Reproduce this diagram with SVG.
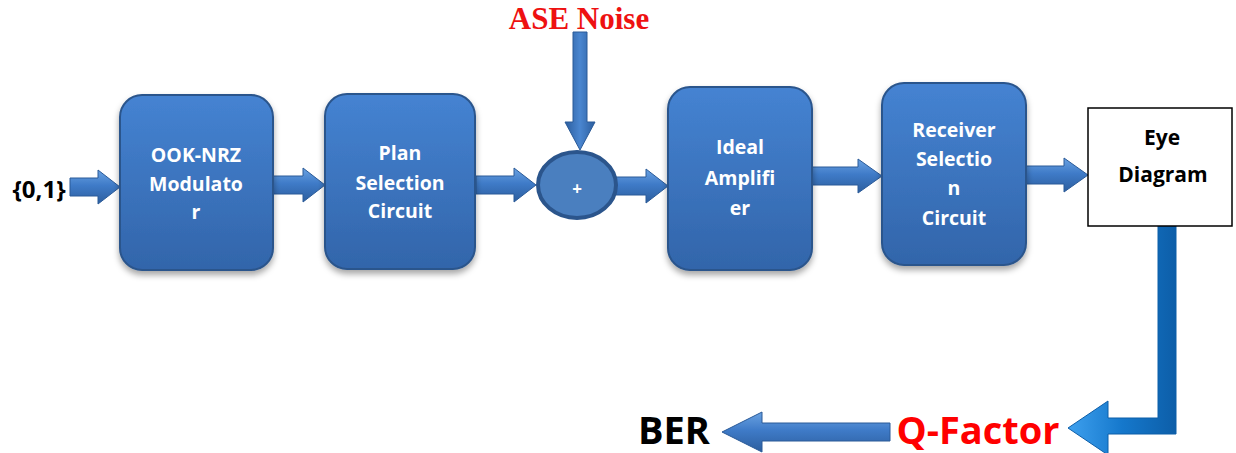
<svg xmlns="http://www.w3.org/2000/svg" width="1236" height="453" viewBox="0 0 1236 453">
  <defs>
    <linearGradient id="boxFill" x1="0" y1="0" x2="0" y2="1">
      <stop offset="0" stop-color="#4583d2"/>
      <stop offset="1" stop-color="#3265aa"/>
    </linearGradient>
    <linearGradient id="arrowH" x1="0" y1="0" x2="0" y2="1">
      <stop offset="0" stop-color="#6aa2e2"/>
      <stop offset="0.45" stop-color="#3f7bc8"/>
      <stop offset="1" stop-color="#2c5e9e"/>
    </linearGradient>
    <linearGradient id="arrowV" x1="0" y1="0" x2="1" y2="0">
      <stop offset="0" stop-color="#2c5e9e"/>
      <stop offset="0.5" stop-color="#4a86d0"/>
      <stop offset="1" stop-color="#2c5e9e"/>
    </linearGradient>
    <linearGradient id="arrowBright" x1="0" y1="0" x2="1" y2="0">
      <stop offset="0" stop-color="#3ea0ee"/>
      <stop offset="0.5" stop-color="#1578cc"/>
      <stop offset="1" stop-color="#0d5ea8"/>
    </linearGradient>
    <filter id="shadow" x="-20%" y="-20%" width="140%" height="140%">
      <feDropShadow dx="0" dy="4" stdDeviation="3" flood-color="#000" flood-opacity="0.35"/>
    </filter>
  </defs>
  <style>
    .box { fill: url(#boxFill); stroke: #2b558c; stroke-width: 2; filter: url(#shadow); }
    .lbl { font-family: "Open Sans", "Liberation Sans", sans-serif; font-weight: bold; font-size: 19.5px; fill: #ffffff; text-anchor: middle; }
    .blk { font-family: "Open Sans", "Liberation Sans", sans-serif; font-weight: bold; fill: #000000; text-anchor: middle; }
    .arr { fill: url(#arrowH); stroke: #2a5a98; stroke-width: 1; }
    .arrv { fill: url(#arrowV); stroke: #2a5a98; stroke-width: 1; }
  </style>
  <rect width="1236" height="453" fill="#ffffff"/>

  <!-- connectors -->
  <g id="connectors">
    <!-- input to modulator -->
    <path class="arr" d="M70,178 H98 V170 L120,187 L98,204 V196 H70 Z"/>
    <!-- modulator to plan selection -->
    <path class="arr" d="M273,176 H303 V168 L325,185 L303,202 V194 H273 Z"/>
    <!-- plan selection to adder -->
    <path class="arr" d="M476,176 H514 V168 L536,185 L514,202 V194 H476 Z"/>
    <!-- adder to amplifier -->
    <path class="arr" d="M616,177 H646 V169 L668,186 L646,203 V195 H616 Z"/>
    <!-- amplifier to receiver selection -->
    <path class="arr" d="M812,167 H858 V159 L882,176 L858,193 V185 H812 Z"/>
    <!-- receiver selection to eye diagram -->
    <path class="arr" d="M1025,166 H1064 V158 L1088,175 L1064,192 V184 H1025 Z"/>
    <!-- ASE noise into adder -->
    <path class="arrv" d="M573,32 H587 V122 H595 L580,150 L565,122 H573 Z"/>
    <!-- eye diagram down to Q-factor -->
    <path fill="url(#arrowBright)" stroke="#0d5ea8" stroke-width="1" d="M1158,221 H1176 V434 H1108 V455 L1068,428 L1108,401 V418 H1158 Z"/>
    <!-- Q-factor to BER -->
    <path class="arr" d="M890,423 H762 V412 L722,432 L762,452 V441 H890 Z"/>
  </g>

  <!-- ASE noise label -->
  <g id="ase">
    <text x="579" y="29" font-family="'Liberation Serif', serif" font-weight="bold" font-size="31" fill="#ee1111" text-anchor="middle">ASE Noise</text>
  </g>

  <!-- input bits -->
  <g id="input">
    <text x="39" y="198" class="blk" font-size="24">{0,1}</text>
  </g>

  <g id="modulator">
    <rect class="box" x="120" y="95" width="153" height="175" rx="22"/>
    <text class="lbl" x="196" y="162">OOK-NRZ</text>
    <text class="lbl" x="196" y="191">Modulato</text>
    <text class="lbl" x="196" y="219">r</text>
  </g>

  <g id="plan-selection">
    <rect class="box" x="325" y="94" width="150" height="175" rx="22"/>
    <text class="lbl" x="400" y="160">Plan</text>
    <text class="lbl" x="400" y="190">Selection</text>
    <text class="lbl" x="400" y="218">Circuit</text>
  </g>

  <g id="adder">
    <ellipse cx="577" cy="185" rx="39" ry="33" fill="#4a7fbf" stroke="#2b558c" stroke-width="4"/>
    <text x="577" y="195" font-family="'Open Sans', 'Liberation Sans', sans-serif" font-weight="bold" font-size="17" fill="#ffffff" text-anchor="middle">+</text>
  </g>

  <g id="amplifier">
    <rect class="box" x="668" y="87" width="144" height="183" rx="22"/>
    <text class="lbl" x="740" y="154">Ideal</text>
    <text class="lbl" x="740" y="185">Amplifi</text>
    <text class="lbl" x="740" y="215">er</text>
  </g>

  <g id="receiver-selection">
    <rect class="box" x="882" y="83" width="144" height="182" rx="22"/>
    <text class="lbl" x="954" y="137">Receiver</text>
    <text class="lbl" x="954" y="166">Selectio</text>
    <text class="lbl" x="954" y="195">n</text>
    <text class="lbl" x="954" y="225">Circuit</text>
  </g>

  <g id="eye-diagram">
    <rect x="1088" y="108" width="144" height="118" fill="#ffffff" stroke="#000000" stroke-width="1.5"/>
    <text class="blk" x="1162" y="145" font-size="21">Eye</text>
    <text class="blk" x="1163" y="182" font-size="21">Diagram</text>
  </g>

  <g id="q-factor">
    <text x="978" y="444" font-family="'Open Sans', 'Liberation Sans', sans-serif" font-weight="bold" font-size="38" fill="#ff0000" text-anchor="middle">Q-Factor</text>
  </g>

  <g id="ber">
    <text class="blk" x="674" y="444" font-size="38">BER</text>
  </g>
</svg>
